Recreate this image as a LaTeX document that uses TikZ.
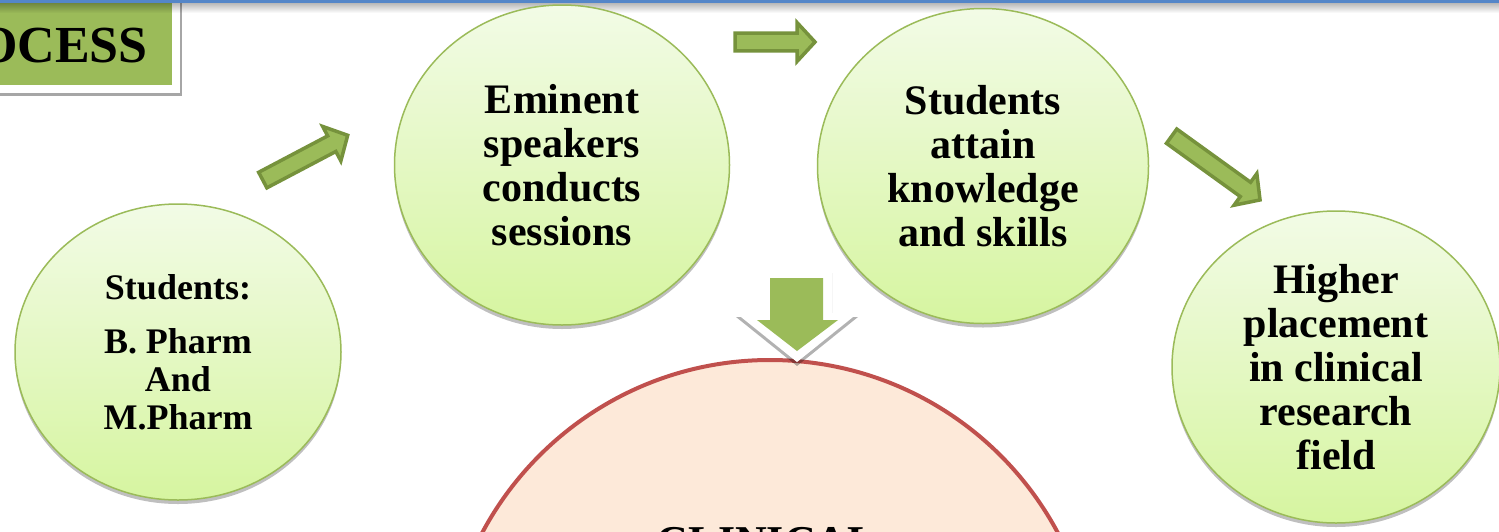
\documentclass[tikz,border=0pt]{standalone}
\usepackage{fontspec}
\setmainfont{Liberation Serif}
\usetikzlibrary{shapes.geometric,shadows}
\definecolor{gborder}{RGB}{155,187,89}
\definecolor{gtop}{RGB}{242,251,230}
\definecolor{gbot}{RGB}{214,245,160}
\definecolor{afill}{RGB}{155,187,89}
\definecolor{aborder}{RGB}{118,146,60}
\definecolor{rborder}{RGB}{192,80,77}
\definecolor{rfill}{RGB}{253,233,217}
\definecolor{topblue}{RGB}{84,134,200}
\newcommand\blockarr[4]{%
  \begin{scope}[shift={(#1,#2)},rotate=#3]
    \draw[blockarrow] (2,-8.8) -- ({#4-22},-8.8) -- ({#4-22},-19.5) -- ({#4-4},0)
      -- ({#4-22},19.5) -- ({#4-22},8.8) -- (2,8.8) -- cycle;
  \end{scope}}
\begin{document}
\begin{tikzpicture}[x=1pt,y=-1pt,
  bubble/.style={ellipse, draw=gborder, line width=1.5pt, top color=gtop, bottom color=gbot,
    align=center, inner sep=0pt, text=black,
    font=\fontsize{42}{44}\selectfont\bfseries,
    drop shadow={shadow xshift=0pt, shadow yshift=-4pt, opacity=0.25, fill=black}},
  blockarrow/.style={fill=afill, draw=aborder, line width=3.5pt, line join=miter},
]
\useasboundingbox (0,0) rectangle (1499,531);
\clip (0,0) rectangle (1499,531);
\fill[white] (0,0) rectangle (1499,531);

% PROCESS label
\fill[white, drop shadow={shadow xshift=2pt, shadow yshift=-3pt, opacity=0.35, fill=black}]
  (-30,-10) rectangle (180,93);
\fill[afill] (-30,-10) rectangle (172,85);
\node[anchor=base east, inner sep=0pt, font=\fontsize{52}{56}\selectfont\bfseries] (proc) at (148,62) {PROCESS};

% top rule with shadow
\foreach \i in {0,...,9} {
  \fill[black, opacity={0.28*(1-\i/10)}] (0,{3+\i}) rectangle (1499,{4+\i});
}
\fill[topblue] (0,0) rectangle (1499,3);

% big red circle
\node[circle, minimum size=652pt, draw=rborder, line width=4pt, fill=rfill] (big) at (770,686) {};
\node[anchor=base, inner sep=0pt, font=\fontsize{44}{48}\selectfont\bfseries] (clin) at (767,556) {CLINICAL};

% green bubbles
\node[bubble, minimum width=326pt, minimum height=296pt, font=\fontsize{36}{38}\selectfont\bfseries] (c1) at (178,352)
  {Students:\\[16pt]B. Pharm\\And\\M.Pharm};
\node[bubble, minimum width=335pt, minimum height=320pt] (c2) at (562,165)
  {Eminent\\speakers\\conducts\\sessions};
\node[bubble, minimum width=331pt, minimum height=315pt] (c3) at (983,166)
  {Students\\attain\\knowledge\\and skills};
\node[bubble, minimum width=328pt, minimum height=312pt] (c4) at (1336,367)
  {Higher\\placement\\in clinical\\research\\field};

% block arrows
\blockarr{261}{181}{27.8}{102}
\blockarr{733}{42}{0}{86}
\blockarr{1170}{135}{-35.8}{115}

% down arrow
\fill[white, drop shadow={shadow xshift=0pt, shadow yshift=-4pt, opacity=0.3, fill=black}]
  (761,269) -- (832,269) -- (832,313) -- (858,313) -- (797,362) -- (736,313) -- (761,313) -- cycle;
\fill[afill] (770,278) -- (823,278) -- (823,320) -- (838,320) -- (797,351) -- (757,320) -- (770,320) -- cycle;
\end{tikzpicture}
\end{document}
